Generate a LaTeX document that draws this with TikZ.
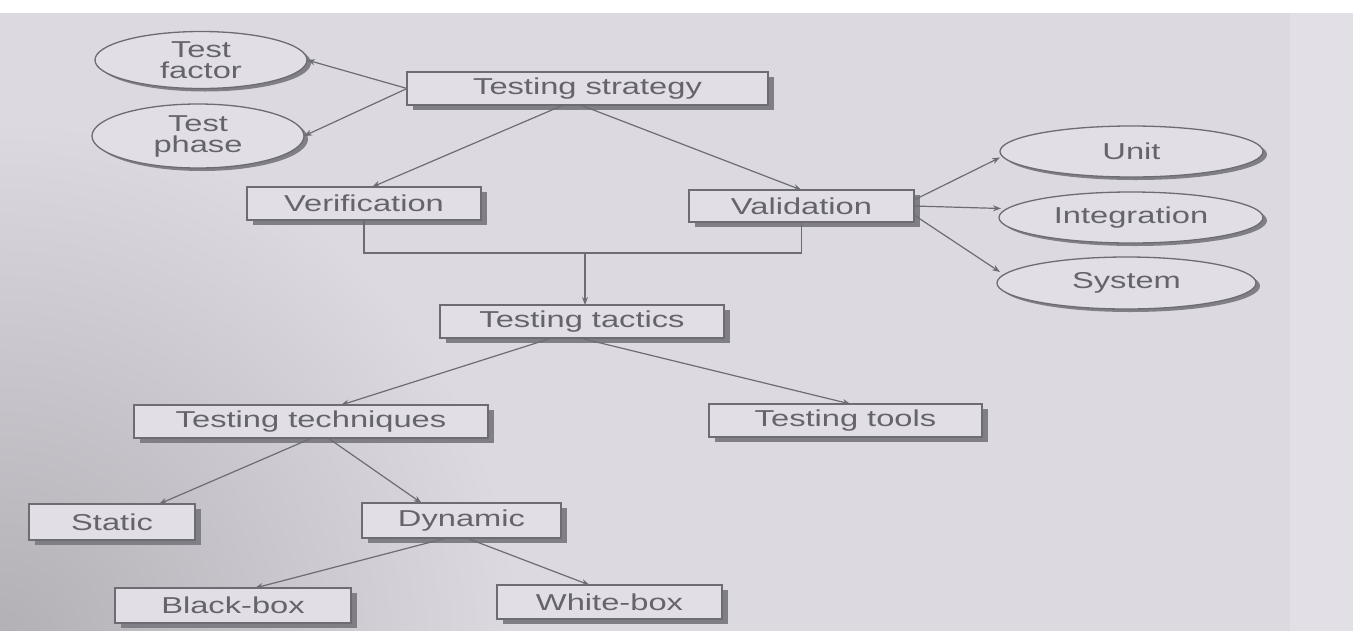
\documentclass[tikz,border=0pt]{standalone}
\usepackage{fontspec}
\setmainfont{Liberation Sans}[FakeStretch=1.42]
\usetikzlibrary{arrows.meta,shapes.geometric,shadows}
\definecolor{bg}{RGB}{221,217,225}
\definecolor{bglight}{RGB}{227,223,231}
\definecolor{bgdark}{RGB}{178,175,181}
\definecolor{boxbg}{RGB}{225,222,229}
\definecolor{ink}{RGB}{100,100,106}
\definecolor{linec}{RGB}{108,108,114}
\definecolor{shad}{RGB}{128,127,133}
\tikzset{
  boxnode/.style={draw=linec, line width=1.3pt, fill=boxbg, rectangle,
    inner sep=0pt, outer sep=0pt, text=ink,
    font=\fontsize{23}{20}\selectfont,
    drop shadow={shadow xshift=6pt, shadow yshift=-5pt, fill=shad, opacity=1}},
  ellnode/.style={draw=linec, line width=1.3pt, fill=boxbg, ellipse,
    inner sep=0pt, outer sep=0pt, text=ink, align=center,
    font=\fontsize{23}{21}\selectfont,
    drop shadow={shadow xshift=4pt, shadow yshift=-3pt, fill=shad, opacity=1}},
  conn/.style={draw=linec, line width=1.2pt},
  arr/.style={conn, -{Stealth[length=8pt,width=6pt]}}
}
\begin{document}
\begin{tikzpicture}[x=1pt,y=-1pt]
% background
\useasboundingbox (0,0) rectangle (1353,630);
\fill[white] (0,0) rectangle (1353,630);
\fill[bg] (0,13) rectangle (1353,640);
\fill[bglight] (1290,13) rectangle (1353,640);
\begin{scope}
  \clip (0,13) rectangle (1290,640);
  \shade[inner color=bgdark, outer color=bg] (-520,120) rectangle (520,1160);
\end{scope}

% nodes
\node[boxnode, minimum width=361pt, minimum height=33pt] (strat) at (587.5,88.5) {Testing strategy};
\node[ellnode, minimum width=212pt, minimum height=57pt] (tfactor) at (201,60) {Test\\factor};
\node[ellnode, minimum width=212pt, minimum height=64pt] (tphase) at (198,136) {Test\\phase};
\node[boxnode, minimum width=234pt, minimum height=33pt] (verif) at (364,203.5) {Verification};
\node[boxnode, minimum width=225pt, minimum height=32pt] (valid) at (801.5,206) {Validation};
\node[ellnode, minimum width=263pt, minimum height=51pt] (unit) at (1131.5,151.5) {Unit};
\node[ellnode, minimum width=264pt, minimum height=51pt] (integ) at (1131,217.5) {Integration};
\node[ellnode, minimum width=259pt, minimum height=52pt] (system) at (1126.5,283) {System};
\node[boxnode, minimum width=284pt, minimum height=33pt] (tactics) at (582,321.5) {Testing tactics};
\node[boxnode, minimum width=354pt, minimum height=33pt] (techn) at (311,421.5) {Testing techniques};
\node[boxnode, minimum width=273pt, minimum height=33pt] (tools) at (845.5,420.5) {Testing tools};
\node[boxnode, minimum width=166pt, minimum height=36pt] (static) at (112,522) {Static};
\node[boxnode, minimum width=199pt, minimum height=35pt] (dynamic) at (461.5,520.5) {Dynamic};
\node[boxnode, minimum width=236pt, minimum height=35pt] (blackbox) at (233,605.5) {Black-box};
\node[boxnode, minimum width=225pt, minimum height=34pt] (whitebox) at (609.5,602) {White-box};

\coordinate (merge) at (585,253);

% connectors
\draw[arr] (strat.west) -- (tfactor.east);
\draw[arr] (strat.west) -- (tphase.east);
\draw[arr] ([xshift=-24pt]strat.south) -- ([xshift=8pt]verif.north);
\draw[arr] ([xshift=-7pt]strat.south) -- (valid.north);

\draw[arr] ([yshift=6pt]valid.east) -- ([yshift=-6pt]unit.west);
\draw[arr] (valid.east) -- ([xshift=2pt,yshift=9pt]integ.west);
\draw[arr] ([yshift=-9pt]valid.east) -- ([xshift=3pt,yshift=11pt]system.west);

\draw[conn] (verif.south) -- (verif.south |- merge) -- (valid.south |- merge) -- (valid.south);
\draw[arr] (merge) -- (merge |- tactics.north);

\draw[arr] ([xshift=-30pt]tactics.south) -- ([xshift=30pt]techn.north);
\draw[arr] ([xshift=-2pt]tactics.south) -- ([xshift=5pt]tools.north);

\draw[arr] ([xshift=1pt]techn.south) -- ([xshift=47pt]static.north);
\draw[arr] ([xshift=17pt]techn.south) -- ([xshift=-40pt]dynamic.north);

\draw[arr] ([xshift=-15pt]dynamic.south) -- ([xshift=22pt]blackbox.north);
\draw[arr] ([xshift=5pt]dynamic.south) -- ([xshift=-20pt]whitebox.north);
\end{tikzpicture}
\end{document}
